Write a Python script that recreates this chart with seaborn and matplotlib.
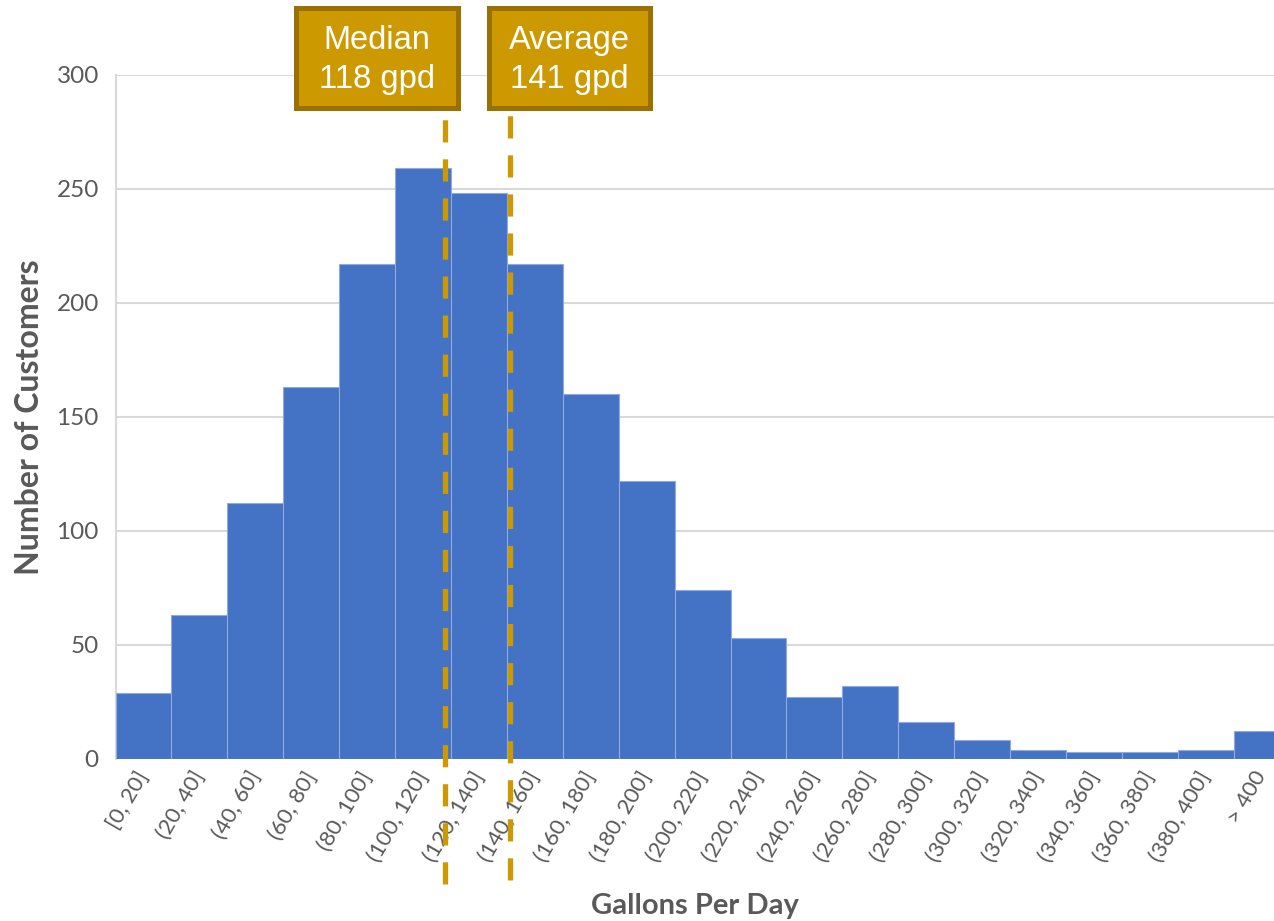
import matplotlib
matplotlib.use("Agg")
import pandas as pd
import matplotlib.pyplot as plt
import seaborn as sns
from matplotlib.patches import Rectangle


bins = [
    "[0, 20]", "(20, 40]", "(40, 60]", "(60, 80]", "(80, 100]", "(100, 120]",
    "(120, 140]", "(140, 160]", "(160, 180]", "(180, 200]", "(200, 220]",
    "(220, 240]", "(240, 260]", "(260, 280]", "(280, 300]", "(300, 320]",
    "(320, 340]", "(340, 360]", "(360, 380]", "(380, 400]", "> 400"
]
customers = [29, 63, 112, 163, 217, 259, 248, 217, 160, 122, 74,
             53, 27, 32, 16, 8, 4, 3, 3, 4, 12]

median_gpd = 118
average_gpd = 141
bin_width = 20

df = pd.DataFrame({"Gallons Per Day": bins, "Number of Customers": customers})

W, H = 1274, 921
fig = plt.figure(figsize=(W / 100, H / 100), dpi=100)
ax = fig.add_axes([115.5 / W, 1 - 758.7 / H, 1 - 115.5 / W, (758.7 - 74.7) / H])

grey = "#595959"
gridc = "#D9D9D9"
gold = "#CC9A00"
gold_dark = "#9A7100"

sns.barplot(data=df, x="Gallons Per Day", y="Number of Customers", ax=ax,
            color="#4472C4", saturation=1, width=1,
            edgecolor="#8FAADC", linewidth=0.8, zorder=3)

ax.set_ylim(0, 300)
ax.set_xlim(-0.5, 20.22)
ax.set_yticks(range(0, 301, 50))
ax.yaxis.grid(True, color=gridc, linewidth=1.5, zorder=0)
ax.set_axisbelow(True)
for side in ["top", "right", "bottom"]:
    ax.spines[side].set_visible(False)
ax.spines["left"].set_color(gridc)
ax.spines["left"].set_linewidth(1.5)

ax.tick_params(axis="both", length=0)
ax.tick_params(axis="y", pad=12, labelsize=17.5, labelcolor=grey)
ax.tick_params(axis="x", pad=10, labelsize=16, labelcolor=grey)
for lab in ax.get_yticklabels():
    lab.set_fontfamily("Lato")
for lab in ax.get_xticklabels():
    lab.set_fontfamily("Lato")
    lab.set_rotation(60)
    lab.set_ha("right")
    lab.set_va("center")
    lab.set_rotation_mode("anchor")

ax.set_xlabel("Gallons Per Day", fontsize=21, fontweight="bold", color=grey,
              family="Lato")
ax.set_ylabel("Number of Customers", fontsize=23, fontweight="bold", color=grey,
              family="Lato")
ax.xaxis.set_label_coords(0.5, -0.197)
ax.yaxis.set_label_coords(-0.062, 0.5)

# dashed reference lines for median and average (bar index units)
for val, top, bot in [(median_gpd, 281, -55), (average_gpd, 283, -53)]:
    xpos = val / bin_width - 0.5
    ax.plot([xpos, xpos], [bot, top], color=gold, linestyle=(0, (4.2, 3.2)),
            linewidth=3.8, clip_on=False, zorder=4)

# label boxes
boxes = [(296, 458, "Median\n118 gpd"), (489, 650, "Average\n141 gpd")]
for x0, x1, txt in boxes:
    fig.add_artist(Rectangle((x0 / W, 1 - 108 / H), (x1 - x0) / W, 100 / H,
                             transform=fig.transFigure, facecolor=gold,
                             edgecolor=gold_dark, linewidth=3.6, zorder=5))
    fig.text((x0 + x1) / 2 / W, 1 - 60 / H, txt, ha="center", va="center",
             color="white", fontsize=23.5, family="Liberation Sans",
             linespacing=1.32, zorder=6)

fig.savefig("out.png", dpi=100)
